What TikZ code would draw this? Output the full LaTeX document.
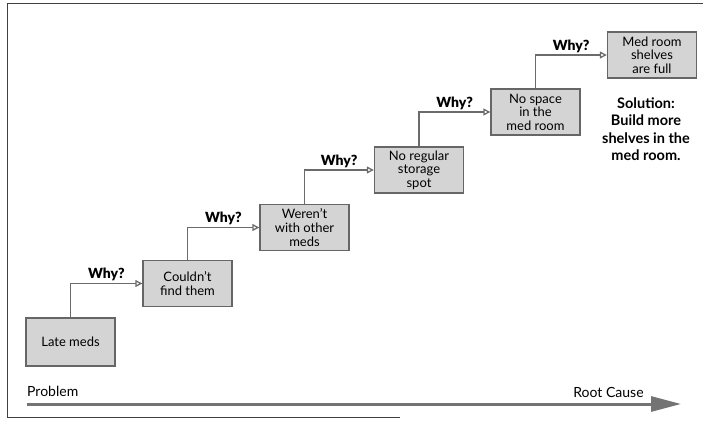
\documentclass[tikz,border=0pt]{standalone}
\usepackage{fontspec}
\setmainfont{Lato}
\newfontfamily\whyfont{Lato Black}
\usetikzlibrary{arrows.meta}

\tikzset{
  cause/.style={draw=black!60, line width=1.4pt, fill=black!17, minimum width=89pt,
    minimum height=46pt, align=center, inner sep=1pt,
    font=\fontsize{13}{13.6}\selectfont},
  why/.style={draw=black!58, line width=1.3pt, -{Triangle[open, length=7pt, width=7pt]}},
  whylabel/.style={font=\whyfont\fontsize{14}{14}\selectfont, inner sep=1pt, above=1pt},
  axis/.style={draw=black!55, line width=3pt, -{Triangle[length=30pt, width=15pt]}},
}

\begin{document}
\begin{tikzpicture}[x=1pt, y=-1pt]

        \useasboundingbox (0,0) rectangle (706,425);
        \draw[line width=.8pt, black!75] (703,3) -- (7,3) -- (7,417) -- (400,417);

        % the chain of causes
        \begin{scope}[every node/.style={cause}]
          \node (late)     at (70.5,342)   [minimum height=48pt] {Late meds};
          \node (couldnt)  at (187.5,283.5) {Couldn't\\find them};
          \node (werent)   at (304.5,227.5) {Weren't\\with other\\meds};
          \node (noplace)  at (419,170)     {No regular\\storage\\spot};
          \node (nospace)  at (535.5,112)   {No space\\in the\\med room};
          \node (medroom)  at (652,55)      {Med room\\shelves\\are full};
        \end{scope}

        \begin{scope}[every node/.style={whylabel}]
          \draw[why] (late.north)    |- (couldnt.west) node[pos=.75] {Why?};
          \draw[why] (couldnt.north) |- (werent.west)  node[pos=.75] {Why?};
          \draw[why] (werent.north)  |- (noplace.west) node[pos=.75] {Why?};
          \draw[why] (noplace.north) |- (nospace.west) node[pos=.75] {Why?};
          \draw[why] (nospace.north) |- (medroom.west) node[pos=.75] {Why?};
        \end{scope}

        \node (solution) at (646,129) [align=center, font=\bfseries\fontsize{14.5}{17.5}\selectfont]
          {Solution:\\Build more\\shelves in the\\med room.};

        % problem to root cause
        \coordinate (start) at (27,404);
        \coordinate (end)   at (681,404);
        \draw[axis] (start) -- (end);
        \node (problem) at (27,391)   [anchor=west, inner sep=0pt, font=\fontsize{14}{14}\selectfont] {Problem};
        \node (root)    at (608.5,392) [inner sep=0pt, font=\fontsize{14}{14}\selectfont] {Root Cause};

      \end{tikzpicture}
\end{document}
